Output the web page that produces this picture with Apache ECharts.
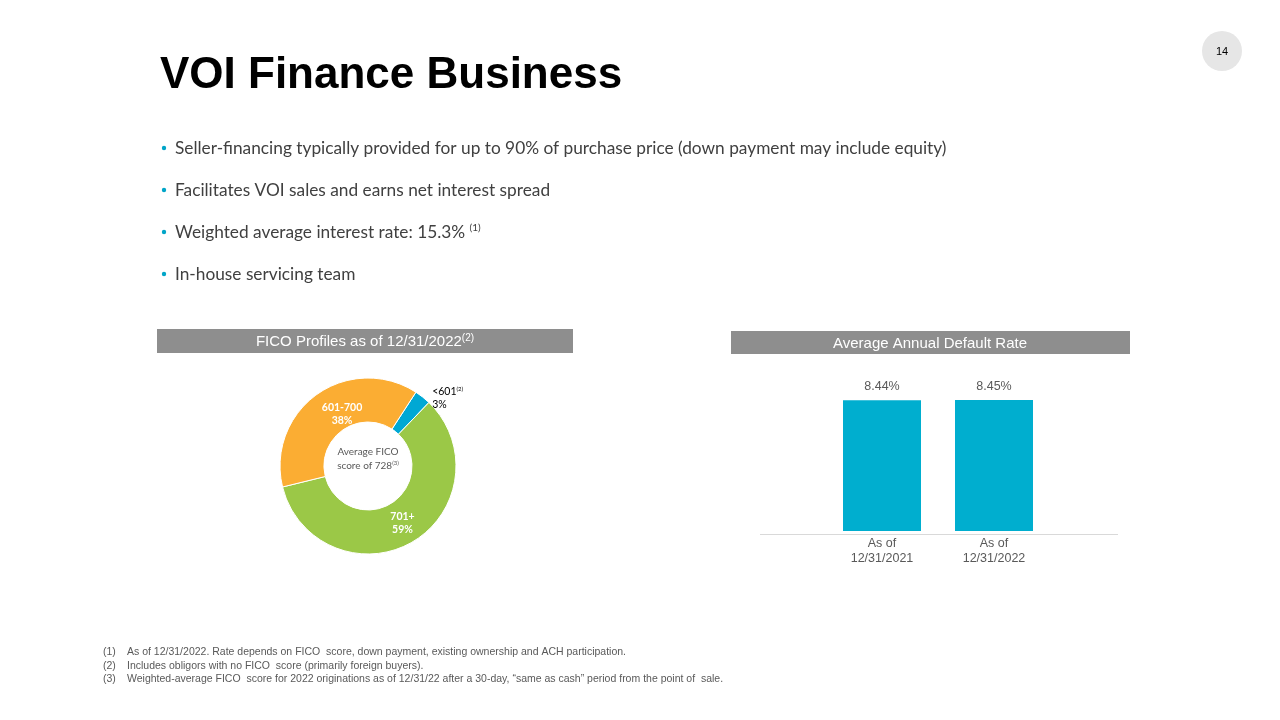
<!DOCTYPE html>
<html>
<head>
<meta charset="utf-8">
<script src="https://cdn.jsdelivr.net/npm/echarts@6/dist/echarts.min.js"></script>
<style>
html,body{margin:0;padding:0;background:#fff;}
#c{width:1280px;height:720px;}
</style>
</head>
<body>
<div id="c"></div>
<script>
const pageTitle = 'VOI Finance Business';
const bullets = [
  'Seller-financing typically provided for up to 90% of purchase price (down payment may include equity)',
  'Facilitates VOI sales and earns net interest spread',
  'Weighted average interest rate: 15.3% {sup|(1)}',
  'In-house servicing team'
];
const fiCoCategories = ['<601', '701+', '601-700'];
const ficoSuperscripts = ['(2)', '', ''];
const ficoShares = [3, 59, 38];
const rateCategories = ['As of\n12/31/2021', 'As of\n12/31/2022'];
const rateValues = [8.44, 8.45];
const footnotes = [
  'As of 12/31/2022. Rate depends on FICO  score, down payment, existing ownership and ACH participation.',
  'Includes obligors with no FICO  score (primarily foreign buyers).',
  'Weighted-average FICO  score for 2022 originations as of 12/31/22 after a 30-day, \u201csame as cash\u201d period from the point of  sale.'
];

const chart = echarts.init(document.getElementById('c'));
const bodyFont = 'Lato, "Open Sans", sans-serif';
const arial = '"Liberation Sans", Arial, sans-serif';

const graphics = [];
graphics.push({type:'text', left:160, top:54, style:{text:pageTitle, font:'bold 44px ' + arial, fill:'#000'}});
graphics.push({type:'circle', shape:{cx:1222, cy:51, r:20}, style:{fill:'#e6e6e6'}});
graphics.push({type:'text', x:1222, y:52, style:{text:'14', font:'11px ' + arial, fill:'#000', align:'center', verticalAlign:'middle'}});
bullets.forEach(function(b, i){
  const y = 148 + i*42;
  graphics.push({type:'circle', shape:{cx:164, cy:y, r:2.2}, style:{fill:'#00a5c8'}});
  graphics.push({type:'text', x:175, y:y, style:{text:b, font:'17.3px ' + bodyFont, fill:'#404040', verticalAlign:'middle',
    rich:{sup:{fontSize:10, fontFamily:'Lato', fill:'#404040', padding:[0,0,8,0]}}}});
});
// header bars
graphics.push({type:'rect', shape:{x:157, y:329, width:416, height:24}, style:{fill:'#8e8e8e'}});
graphics.push({type:'text', x:365, y:342, style:{text:'FICO Profiles as of 12/31/2022{sup|(2)}', font:'15px ' + arial, fill:'#fff', align:'center', verticalAlign:'middle',
  rich:{sup:{fontSize:10, fontFamily:'Liberation Sans', fill:'#fff', padding:[0,0,7,0]}}}});
graphics.push({type:'rect', shape:{x:731, y:331, width:399, height:23}, style:{fill:'#8e8e8e'}});
graphics.push({type:'text', x:930, y:344, style:{text:'Average Annual Default Rate', font:'15px ' + arial, fill:'#fff', align:'center', verticalAlign:'middle'}});
// donut center text
graphics.push({type:'text', x:368, y:459, style:{text:'Average FICO\nscore of 728{sup|(3)}', font:'10px ' + bodyFont, fill:'#595959', align:'center', verticalAlign:'middle', lineHeight:14,
  rich:{sup:{fontSize:6, fontFamily:'Lato', fill:'#595959', padding:[0,0,5,0]}}}});
// bar baseline
graphics.push({type:'line', shape:{x1:760, y1:534.5, x2:1118, y2:534.5}, style:{stroke:'#d9d9d9', lineWidth:1}});
// footnotes
footnotes.forEach(function(f, i){
  const y = 652.5 + i*13.5;
  graphics.push({type:'text', x:103, y:y, style:{text:'(' + (i+1) + ')', font:'10.5px ' + arial, fill:'#595959', verticalAlign:'middle'}});
  graphics.push({type:'text', x:127, y:y, style:{text:f, font:'10.5px ' + arial, fill:'#595959', verticalAlign:'middle'}});
});

const pieColors = ['#00a8d4', '#9bc847', '#fbad33'];

chart.setOption({
  animation:false,
  graphic: graphics,
  grid: {left:826, width:224, top:376, bottom:189},
  xAxis: {type:'category', data:rateCategories, axisLine:{show:false}, axisTick:{show:false},
    axisLabel:{color:'#595959', fontSize:12.5, fontFamily:arial, margin:5, lineHeight:15}},
  yAxis: {type:'value', min:0, max:10, show:false, splitLine:{show:false}},
  series: [
    {
      type:'bar', data:rateValues, barWidth:78, itemStyle:{color:'#00aecf'},
      label:{show:true, position:'top', distance:7, color:'#595959', fontSize:12.5, fontFamily:arial,
        formatter:function(p){return p.value.toFixed(2) + '%';}}
    },
    {
      type:'pie', center:[368,466], radius:[44,88], startAngle:57, clockwise:true,
      avoidLabelOverlap:false,
      itemStyle:{borderColor:'#fff', borderWidth:1},
      data: fiCoCategories.map(function(n, i){
        const outside = i === 0;
        return {name:n, value:ficoShares[i], itemStyle:{color:pieColors[i]},
          label: outside ? {position:'outside', color:'#000', fontWeight:'normal'} : {position:'inside', color:'#fff', fontWeight:'bold'},
          labelLine:{show:false, length:4, length2:0}};
      }),
      label:{show:true, fontSize:10.5, fontFamily:bodyFont, lineHeight:13, align:'center',
        formatter:function(p){
          const s = ficoSuperscripts[p.dataIndex];
          return p.name + (s ? '{sup|' + s + '}' : '') + '\n' + p.value + '%';
        },
        rich:{sup:{fontSize:6, fontFamily:'Lato', color:'#000', padding:[0,0,5,0]}}
      },
      labelLayout:function(params){
        if (params.dataIndex === 2) return {dx:14, dy:4};
        if (params.dataIndex === 1) return {dx:0, dy:-3};
        return {dx:2, dy:4};
      }
    }
  ]
});
</script>
</body>
</html>
